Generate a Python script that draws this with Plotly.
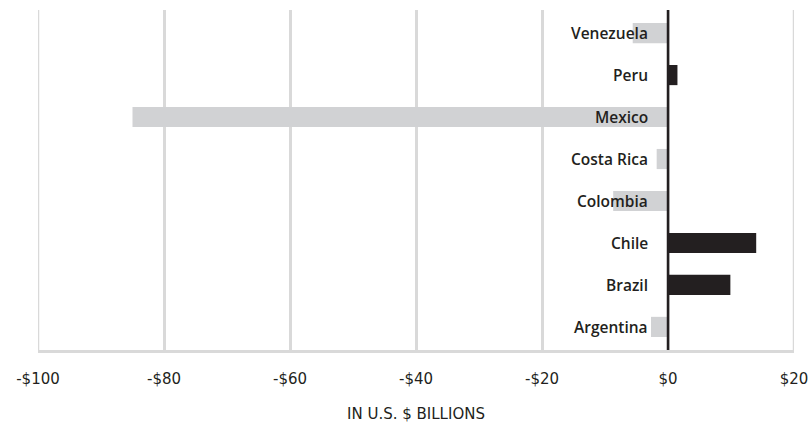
import plotly.graph_objects as go

# Net flows by country, in U.S. $ billions
countries = ["Argentina", "Brazil", "Chile", "Colombia", "Costa Rica", "Mexico", "Peru", "Venezuela"]
values = [-2.7, 9.9, 14.0, -8.7, -1.8, -85.0, 1.5, -5.6]

tick_vals = [-100, -80, -60, -40, -20, 0, 20]
tick_text = ["-$100", "-$80", "-$60", "-$40", "-$20", "$0", "$20"]

GREY_BAR = "#d1d2d4"
DARK_BAR = "#231f20"
GRID = "#d9d9d9"
TEXT = "#231f20"
AXIS_FONT = "DejaVu Sans"
LABEL_FONT = "Open Sans"

bar_colors = [DARK_BAR if v > 0 else GREY_BAR for v in values]

fig = go.Figure()
fig.add_trace(go.Bar(
    x=values,
    y=countries,
    orientation="h",
    marker=dict(color=bar_colors, line=dict(width=0)),
    hoverinfo="skip",
))

# Country names sit just left of the zero line, over the bars
annotations = [
    dict(
        x=0, y=c, xref="x", yref="y",
        text=c, showarrow=False,
        xanchor="right", xshift=-18,
        font=dict(family=LABEL_FONT, size=15.5, color=TEXT, weight=600),
    )
    for c in countries
]
# Axis caption below the tick labels
annotations.append(dict(
    x=0.5, y=0, xref="paper", yref="paper",
    yanchor="middle", yshift=-64,
    text="IN U.S. $ BILLIONS", showarrow=False,
    font=dict(family=AXIS_FONT, size=15, color=TEXT),
))

# Vertical boundary gridlines at the axis ends, drawn as shapes so they show
edge_lines = [
    dict(type="line", xref="x", yref="paper", x0=v, x1=v, y0=0, y1=1,
         line=dict(color=GRID, width=2.5), layer="below")
    for v in (tick_vals[0], tick_vals[-1])
]

fig.update_layout(
    width=810, height=424,
    margin=dict(l=38, r=16, t=10, b=74, autoexpand=False),
    paper_bgcolor="white", plot_bgcolor="white",
    showlegend=False,
    bargap=0.52,
    annotations=annotations,
    shapes=edge_lines + [dict(
        type="line", xref="x", yref="paper",
        x0=0, x1=0, y0=0, y1=1,
        line=dict(color=DARK_BAR, width=2.5),
        layer="above",
    )],
    xaxis=dict(
        range=[-100, 20],
        tickvals=tick_vals, ticktext=tick_text,
        showgrid=True, gridcolor=GRID, gridwidth=2.5,
        zeroline=False,
        showline=True, linecolor=GRID, linewidth=2.5,
        ticks="outside", ticklen=13, tickcolor="rgba(0,0,0,0)",
        tickfont=dict(family=AXIS_FONT, size=15, color=TEXT),
        automargin=False,
        fixedrange=True,
    ),
    yaxis=dict(
        categoryorder="array", categoryarray=countries,
        range=[-0.55, 7.55],
        showticklabels=False, showgrid=False, zeroline=False,
        showline=False, ticks="",
        automargin=False,
        fixedrange=True,
    ),
)

fig.write_html("out.html")
